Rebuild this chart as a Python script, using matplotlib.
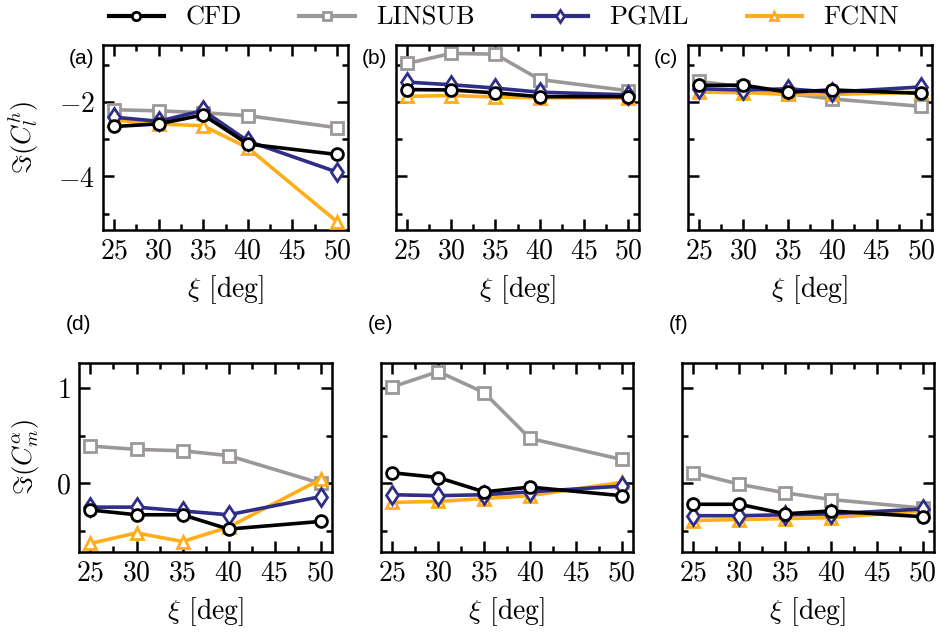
import matplotlib
matplotlib.use("Agg")
import matplotlib.pyplot as plt
from matplotlib.ticker import MultipleLocator
from matplotlib.lines import Line2D

plt.rcParams["font.family"] = "serif"
plt.rcParams["font.serif"] = ["cmr10", "DejaVu Serif"]
plt.rcParams["mathtext.fontset"] = "cm"
plt.rcParams["axes.formatter.use_mathtext"] = True

xi = [25, 30, 35, 40, 50]

# top row: Im(C_l^h), panels a-c
cl_cfd = [[-2.66, -2.59, -2.35, -3.13, -3.41],
          [-1.67, -1.68, -1.76, -1.86, -1.86],
          [-1.56, -1.55, -1.74, -1.68, -1.77]]
cl_linsub = [[-2.21, -2.24, -2.29, -2.37, -2.69],
             [-0.97, -0.70, -0.72, -1.40, -1.70],
             [-1.45, -1.60, -1.78, -1.92, -2.12]]
cl_pgml = [[-2.41, -2.52, -2.23, -3.05, -3.88],
           [-1.47, -1.54, -1.63, -1.74, -1.81],
           [-1.65, -1.68, -1.65, -1.74, -1.60]]
cl_fcnn = [[-2.49, -2.59, -2.64, -3.23, -5.21],
           [-1.85, -1.83, -1.87, -1.89, -1.90],
           [-1.74, -1.75, -1.80, -1.80, -1.74]]

# bottom row: Im(C_m^alpha), panels d-f
cm_cfd = [[-0.28, -0.33, -0.33, -0.48, -0.40],
          [0.11, 0.06, -0.09, -0.04, -0.13],
          [-0.22, -0.22, -0.32, -0.29, -0.35]]
cm_linsub = [[0.39, 0.355, 0.34, 0.29, 0.0],
             [1.01, 1.17, 0.95, 0.47, 0.25],
             [0.11, -0.01, -0.10, -0.17, -0.26]]
cm_pgml = [[-0.25, -0.25, -0.29, -0.33, -0.14],
           [-0.12, -0.13, -0.12, -0.09, -0.03],
           [-0.34, -0.34, -0.33, -0.32, -0.27]]
cm_fcnn = [[-0.63, -0.52, -0.61, -0.46, 0.04],
           [-0.20, -0.19, -0.16, -0.13, 0.01],
           [-0.39, -0.38, -0.37, -0.36, -0.29]]

panel_labels = ["(a)", "(b)", "(c)", "(d)", "(e)", "(f)"]

styles = {
    "CFD": dict(color="black", marker="o", zorder=5),
    "LINSUB": dict(color="#9c9898", marker="s", zorder=2),
    "PGML": dict(color="#2e2d88", marker="d", zorder=4),
    "FCNN": dict(color="#ffae1a", marker="^", zorder=3),
}

fig = plt.figure(figsize=(9.38, 6.32), dpi=100)

W, H = 938, 632
top_boxes = [(103, 348), (396, 639), (688, 932)]
bot_boxes = [(79, 332), (381, 633), (682, 934)]


def make_ax(x0, x1, y0, y1, sharey=None):
    return fig.add_axes([x0 / W, 1 - y1 / H, (x1 - x0) / W, (y1 - y0) / H], sharey=sharey)


def draw(ax, series):
    for name in ["LINSUB", "FCNN", "PGML", "CFD"]:
        st = styles[name]
        ax.plot(xi, series[name], color=st["color"], marker=st["marker"], lw=2.6,
                ms=8.5 if st["marker"] != "d" else 9.5, mfc="white", mec=st["color"],
                mew=2.0, zorder=st["zorder"])
    ax.xaxis.set_major_locator(MultipleLocator(5))
    ax.xaxis.set_minor_locator(MultipleLocator(2.5))
    ax.tick_params(which="both", direction="in", top=True, right=True, width=1.8,
                   labelsize=20, pad=6)
    ax.tick_params(which="major", length=8)
    ax.tick_params(which="minor", length=4)
    for sp in ax.spines.values():
        sp.set_linewidth(1.8)
    ax.set_xlabel(r"$\xi$ [deg]", fontsize=20, labelpad=6)


axes_top = []
for i, (x0, x1) in enumerate(top_boxes):
    ax = make_ax(x0, x1, 45, 230, sharey=axes_top[0] if axes_top else None)
    draw(ax, {"CFD": cl_cfd[i], "LINSUB": cl_linsub[i], "PGML": cl_pgml[i], "FCNN": cl_fcnn[i]})
    ax.yaxis.set_major_locator(MultipleLocator(2))
    ax.yaxis.set_minor_locator(MultipleLocator(1))
    if i > 0:
        ax.tick_params(labelleft=False)
    axes_top.append(ax)
    fig.text((x0 - 34) / W, 1 - 58 / H, panel_labels[i], family="Liberation Sans",
             fontsize=15, va="center")

axes_bot = []
for i, (x0, x1) in enumerate(bot_boxes):
    ax = make_ax(x0, x1, 363, 552, sharey=axes_bot[0] if axes_bot else None)
    draw(ax, {"CFD": cm_cfd[i], "LINSUB": cm_linsub[i], "PGML": cm_pgml[i], "FCNN": cm_fcnn[i]})
    ax.yaxis.set_major_locator(MultipleLocator(1))
    ax.yaxis.set_minor_locator(MultipleLocator(0.5))
    if i > 0:
        ax.tick_params(labelleft=False)
    axes_bot.append(ax)
    fig.text((x0 - 13) / W, 1 - 324 / H, panel_labels[3 + i], family="Liberation Sans",
             fontsize=15, va="center")

axes_top[0].set_ylabel(r"$\Im(C_l^h)$", fontsize=19)
axes_top[0].yaxis.set_label_coords(-0.255, 0.5)
axes_bot[0].set_ylabel(r"$\Im(C_m^\alpha)$", fontsize=19)
axes_bot[0].yaxis.set_label_coords(-0.15, 0.5)

handles = [Line2D([], [], color=styles[n]["color"], marker=styles[n]["marker"], lw=3,
                  ms=6, mfc="white", mec=styles[n]["color"], mew=2)
           for n in ["CFD", "LINSUB", "PGML", "FCNN"]]
fig.legend(handles, ["CFD", "LINSUB", "PGML", "FCNN"], loc="center",
           bbox_to_anchor=(0.537, 1 - 18 / H), ncol=4, frameon=False, fontsize=19,
           handlelength=2.1, columnspacing=2.2, handletextpad=0.8)

fig.savefig("out.png", dpi=100)
